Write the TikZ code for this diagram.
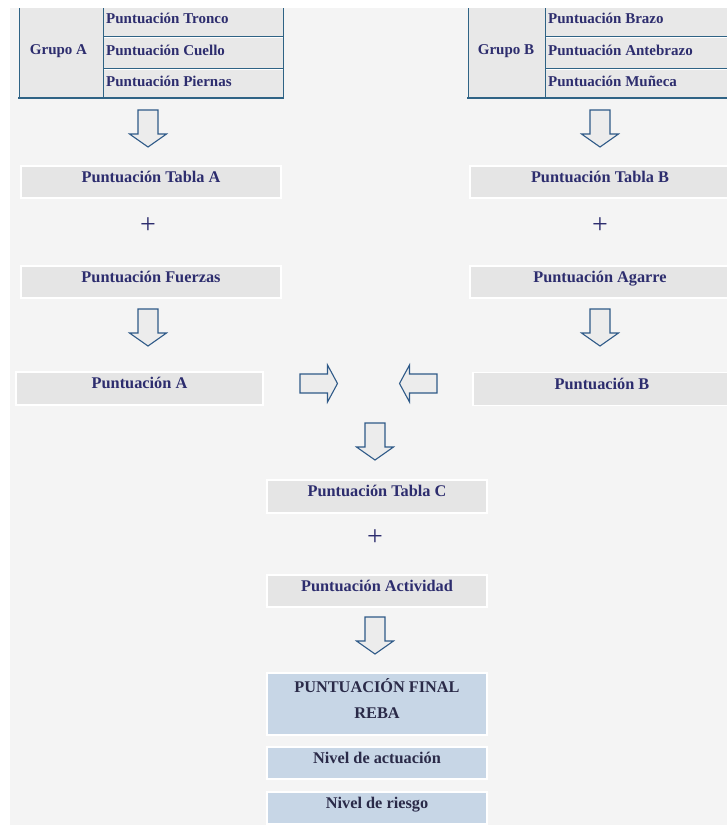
\documentclass[tikz,border=0pt]{standalone}
\usepackage{fontspec}
\setmainfont{Liberation Serif}
\usetikzlibrary{calc}

\definecolor{pagegrey}{HTML}{F4F4F4}
\definecolor{cellgrey}{HTML}{E8E8E8}
\definecolor{boxgrey}{HTML}{E5E5E5}
\definecolor{boxblue}{HTML}{C7D6E6}
\definecolor{rulecol}{HTML}{2F6385}
\definecolor{navy}{HTML}{2D2D6E}
\definecolor{ink}{HTML}{2A2A48}
\definecolor{arrowline}{HTML}{2F5A88}
\definecolor{arrowfill}{HTML}{ECECEC}

\tikzset{
  celltext/.style={font=\bfseries\fontsize{15}{17}\selectfont, text=navy, inner sep=0pt},
  scorebox/.style={rectangle, fill=boxgrey, draw=white, line width=1.5pt,
    minimum height=32pt, inner sep=0pt,
    font=\bfseries\fontsize{16.3}{19}\selectfont, text=navy,
    text height=11pt, text depth=11pt},
  resultbox/.style={scorebox, fill=boxblue, text=ink, minimum width=220pt},
  plussign/.style={font=\fontsize{28}{28}\selectfont, text=navy, inner sep=0pt},
  tablerule/.style={draw=rulecol, line width=1pt},
  blockarrow/.style={draw=arrowline, fill=arrowfill, line width=1.1pt, line join=miter},
  downblock/.pic={\path[blockarrow] (-10,0) -- (10,0) -- (10,24) -- (18.5,24)
      -- (0,37) -- (-18.5,24) -- (-10,24) -- cycle;},
  sideblock/.pic={\path[blockarrow] (0,-9.5) -- (27.5,-9.5) -- (27.5,-18.5)
      -- (37.5,0) -- (27.5,18.5) -- (27.5,9.5) -- (0,9.5) -- cycle;}
}

\begin{document}
\begin{tikzpicture}[x=1pt,y=-1pt]
  \useasboundingbox (0,0) rectangle (727,825);
  \fill[white] (0,0) rectangle (727,825);
  \fill[pagegrey] (10,8) rectangle (727,825);

  % Group A table
  \fill[cellgrey] (19,8) rectangle (283,98);
  \foreach \yy in {36,68} {
    \draw[white, line width=1pt] (104,\yy+1.5) -- (283,\yy+1.5);
    \draw[tablerule] (103,\yy) -- (283,\yy);
  }
  \draw[tablerule] (19,8) -- (19,98);
  \draw[tablerule] (103,8) -- (103,98);
  \draw[tablerule] (283,8) -- (283,98);
  \draw[rulecol, line width=2.6pt] (18,98) -- (284,98);
  \node[celltext, anchor=base] (grpA) at (58.5,54.5) {Grupo A};
  \node[celltext, anchor=base west] (tronco) at (106,23.5) {Puntuación Tronco};
  \node[celltext, anchor=base west] (cuello) at (106,55.5) {Puntuación Cuello};
  \node[celltext, anchor=base west] (piernas) at (106,86.5) {Puntuación Piernas};

  % Group B table
  \fill[cellgrey] (468,8) rectangle (727,98);
  \foreach \yy in {36,68} {
    \draw[white, line width=1pt] (546,\yy+1.5) -- (727,\yy+1.5);
    \draw[tablerule] (545,\yy) -- (727,\yy);
  }
  \draw[tablerule] (468,8) -- (468,98);
  \draw[tablerule] (545,8) -- (545,98);
  \draw[rulecol, line width=2.6pt] (467,98) -- (727,98);
  \node[celltext, anchor=base] (grpB) at (506,54.5) {Grupo B};
  \node[celltext, anchor=base west] (brazo) at (548,23.5) {Puntuación Brazo};
  \node[celltext, anchor=base west] (antebrazo) at (548,55.5) {Puntuación Antebrazo};
  \node[celltext, anchor=base west] (muneca) at (548,86.5) {Puntuación Muñeca};

  % Left column
  \node[scorebox, minimum width=260pt] (tablaA) at (151,182) {Puntuación Tabla A};
  \node[plussign] (plusA) at (148,226) {+};
  \node[scorebox, minimum width=260pt] (fuerzas) at (151,282) {Puntuación Fuerzas};
  \node[scorebox, minimum width=247pt, minimum height=33pt] (puntA) at (139.5,388.5) {Puntuación A};

  % Right column
  \node[scorebox, minimum width=260pt] (tablaB) at (600,182) {Puntuación Tabla B};
  \node[plussign] (plusB) at (600,226) {+};
  \node[scorebox, minimum width=260pt] (agarre) at (600,282) {Puntuación Agarre};
  \node[scorebox, minimum width=258pt, minimum height=33pt] (puntB) at (602,389) {Puntuación B};

  % Centre column
  \node[scorebox, minimum width=220pt, minimum height=33pt] (tablaC) at (377,496.5) {Puntuación Tabla C};
  \node[plussign] (plusC) at (375,538) {+};
  \node[scorebox, minimum width=220pt] (actividad) at (377,591) {Puntuación Actividad};
  \node[resultbox, minimum height=62pt, text height=, text depth=12pt, align=center,
        font=\bfseries\fontsize{16.3}{26}\selectfont] (final) at (377,704)
        {PUNTUACIÓN FINAL\\REBA};
  \node[resultbox] (actuacion) at (377,763) {Nivel de actuación};
  \node[resultbox] (riesgo) at (377,808) {Nivel de riesgo};

  % Block arrows between the stages
  \coordinate (arrA1) at (148,110);
  \coordinate (arrB1) at (600,110);
  \coordinate (arrA2) at (148,309);
  \coordinate (arrB2) at (600,309);
  \coordinate (arrC1) at (375,423);
  \coordinate (arrC2) at (375,617);
  \coordinate (arrAB) at (300,383.5);
  \coordinate (arrBA) at (437,383.5);
  \foreach \c in {arrA1,arrB1,arrA2,arrB2,arrC1,arrC2}
    \pic at (\c) {downblock};
  \pic at (arrAB) {sideblock};
  \pic[xscale=-1] at (arrBA) {sideblock};
\end{tikzpicture}
\end{document}
